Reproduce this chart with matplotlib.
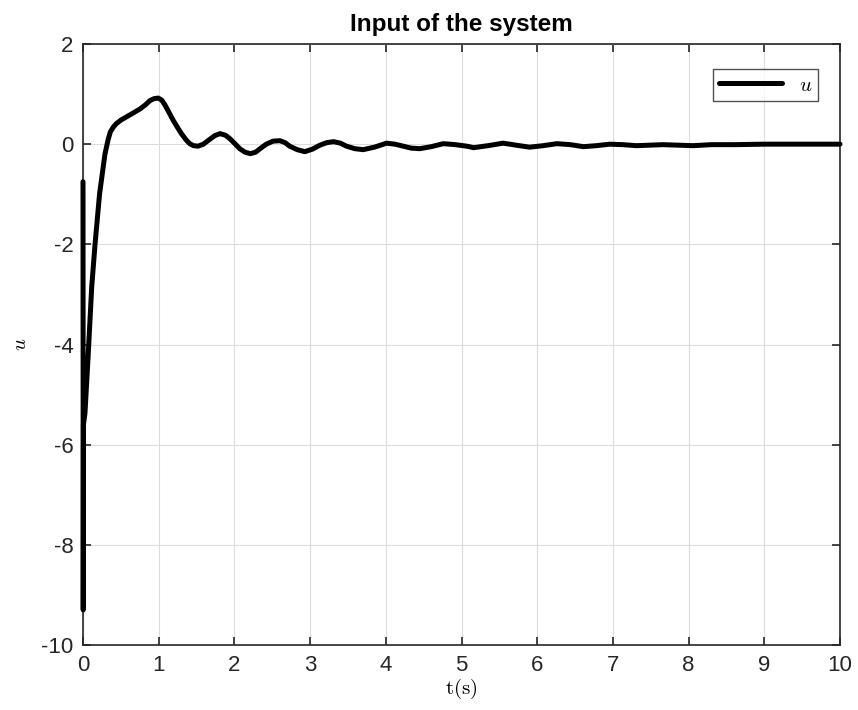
import matplotlib
matplotlib.use("Agg")
import matplotlib.pyplot as plt

# data
t = [0, 0.003, 0.006, 0.026, 0.07, 0.115, 0.16, 0.22, 0.29, 0.33, 0.36, 0.40,
     0.44, 0.50, 0.58, 0.66, 0.75, 0.82, 0.885, 0.94, 0.995, 1.04, 1.08, 1.13,
     1.19, 1.25, 1.30, 1.36, 1.41, 1.46, 1.52, 1.59, 1.66, 1.74, 1.81, 1.88,
     1.94, 2.0, 2.07, 2.14, 2.21, 2.28, 2.34, 2.42, 2.51, 2.60, 2.67, 2.73,
     2.83, 2.93, 3.03, 3.13, 3.22, 3.31, 3.40, 3.48, 3.59, 3.70, 3.85, 4.01,
     4.12, 4.23, 4.34, 4.45, 4.60, 4.76, 4.92, 5.07, 5.16, 5.35, 5.55, 5.72,
     5.9, 6.08, 6.26, 6.44, 6.61, 6.78, 6.96, 7.13, 7.31, 7.48, 7.66, 7.86,
     8.06, 8.3, 8.6, 9.0, 9.5, 10.0]
u = [-0.75, -9.3, -5.6, -5.37, -4.17, -2.85, -1.98, -0.98, -0.2, 0.08, 0.24, 0.34,
     0.41, 0.48, 0.55, 0.62, 0.70, 0.78, 0.87, 0.91, 0.92, 0.88, 0.79, 0.65,
     0.48, 0.33, 0.21, 0.09, 0.01, -0.03, -0.04, 0.0, 0.08, 0.17, 0.21, 0.18,
     0.11, 0.02, -0.09, -0.16, -0.19, -0.16, -0.09, 0.0, 0.06, 0.07, 0.03, -0.04,
     -0.11, -0.15, -0.1, -0.02, 0.03, 0.05, 0.02, -0.04, -0.09, -0.11, -0.06, 0.02,
     0.0, -0.04, -0.08, -0.09, -0.05, 0.01, -0.01, -0.04, -0.07, -0.03, 0.02, -0.02,
     -0.06, -0.03, 0.01, -0.01, -0.05, -0.03, 0.0, -0.01, -0.03, -0.02, -0.01, -0.02,
     -0.03, -0.01, -0.01, 0.0, 0.0, 0.0]

xticks = list(range(0, 11))
yticks = [-10, -8, -6, -4, -2, 0, 2]

plt.rcParams["font.family"] = ["Liberation Sans", "DejaVu Sans"]
plt.rcParams["mathtext.fontset"] = "cm"
plt.rcParams["axes.unicode_minus"] = False

fig = plt.figure(figsize=(8.58, 7.10), dpi=100)
ax = fig.add_axes([83 / 858, 1 - 645 / 710, (840 - 83) / 858, (645 - 44) / 710])

ax.plot(t, u, color="black", linewidth=3.6, solid_joinstyle="round",
        solid_capstyle="round", clip_on=False, label=r"$u$", zorder=3)

ax.set_xlim(0, 10)
ax.set_ylim(-10, 2)
ax.set_xticks(xticks)
ax.set_yticks(yticks)
ax.grid(True, color="#dcdcdc", linewidth=0.8)
ax.set_axisbelow(True)
ax.tick_params(direction="in", top=True, right=True, labelsize=16,
               length=6, width=1.2, colors="#262626", pad=7)
for s in ax.spines.values():
    s.set_linewidth(1.2)
    s.set_color("#262626")

ax.set_title("Input of the system", fontsize=17.5, fontweight="bold", pad=9)
ax.set_xlabel(r"$\mathrm{t(s)}$", fontsize=15, labelpad=1)
ax.set_ylabel(r"$u$", fontsize=15, labelpad=8)

leg = ax.legend(loc="upper right", fontsize=15, fancybox=False, edgecolor="#262626",
                handlelength=3.0, borderpad=0.3, bbox_to_anchor=(0.985, 0.975))
leg.get_frame().set_linewidth(1.0)

fig.savefig("out.png", dpi=100)
